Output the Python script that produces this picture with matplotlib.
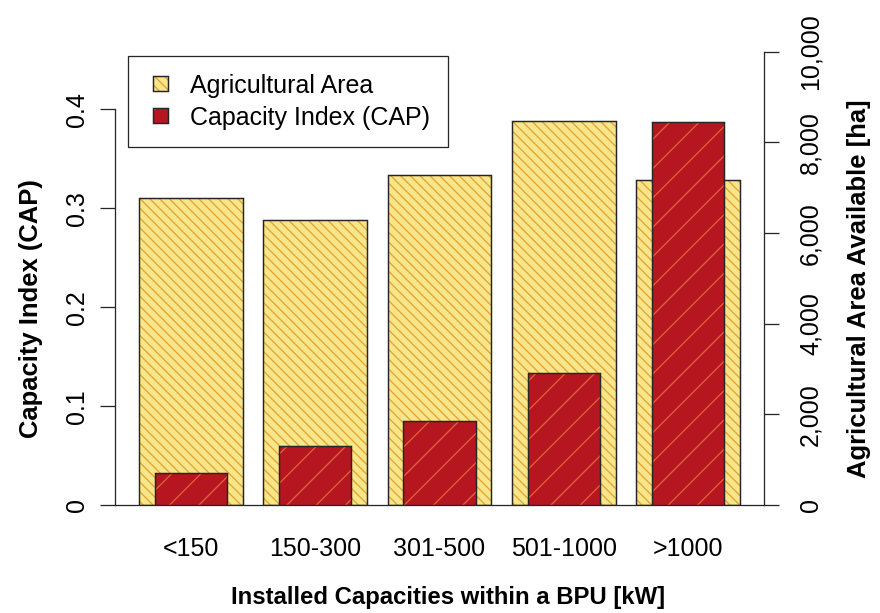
import matplotlib.pyplot as plt
import numpy as np
from matplotlib.legend_handler import HandlerPatch, HandlerTuple
from matplotlib.patches import Patch, Rectangle

plt.rcParams["font.family"] = ["Liberation Sans", "DejaVu Sans"]
plt.rcParams["hatch.linewidth"] = 1.05

categories = ["<150", "150-300", "301-500", "501-1000", ">1000"]
agri_area = [6760, 6280, 7270, 8460, 7160]
cap_index = [0.032, 0.059, 0.085, 0.133, 0.387]
area_ticks = [0, 2000, 4000, 6000, 8000, 10000]
cap_ticks = [0, 0.1, 0.2, 0.3, 0.4]
cap_tick_labels = ["0", "0.1", "0.2", "0.3", "0.4"]

yellow = "#f8e68c"
yellow_hatch = "#e5a22a"
red = "#b5161f"
red_hatch = "#e2623c"
ink = "#262626"
fs = 20.5
yellow_pat = "\\" * 3
red_pat = "/"

# dpi 88 so the hatch spacing matches the original
dpi = 88
fig = plt.figure(figsize=(880 / dpi, 613.4 / dpi), dpi=dpi)
ax = fig.add_axes([0.1307, 0.1762, 0.7375, 0.739])
ax2 = ax.twinx()

x = 0.7 + 1.2 * np.arange(len(categories))
ax.bar(x, agri_area, width=1.0, color=yellow, edgecolor=yellow_hatch,
       hatch=yellow_pat, linewidth=0)
ax.bar(x, agri_area, width=1.0, fill=False, edgecolor=ink, linewidth=1.2)
ax2.bar(x, cap_index, width=0.7, color=red, edgecolor=red_hatch,
        hatch=red_pat, linewidth=0)
ax2.bar(x, cap_index, width=0.7, fill=False, edgecolor=ink, linewidth=1.2)

ax.set_xlim(-0.032, 6.232)
ax.set_ylim(0, 10000)
ax2.set_ylim(0, 0.4576)

# right axis: agricultural area
ax.yaxis.tick_right()
ax.yaxis.set_label_position("right")
ax.set_yticks(area_ticks, [f"{v:,}" for v in area_ticks])
ax.set_xticks(x, categories)
ax.tick_params(axis="x", length=0, pad=26, labelsize=fs)
ax.tick_params(axis="y", length=12.3, width=1.05, color=ink, pad=16,
               labelsize=fs, labelrotation=90)
for s in ["top", "left"]:
    ax.spines[s].set_visible(False)
for s in ["bottom", "right"]:
    ax.spines[s].set_linewidth(1.05)
    ax.spines[s].set_color(ink)

# left axis: capacity index
ax2.yaxis.tick_left()
ax2.yaxis.set_label_position("left")
ax2.set_yticks(cap_ticks, cap_tick_labels)
ax2.tick_params(axis="y", length=12.3, width=1.05, color=ink, pad=8.7,
                labelsize=fs, labelrotation=90)
for s in ["top", "right", "bottom"]:
    ax2.spines[s].set_visible(False)
ax2.spines["left"].set_bounds(0, 0.4)
ax2.spines["left"].set_linewidth(1.05)
ax2.spines["left"].set_color(ink)

plt.setp(ax.get_yticklabels(), va="center")
plt.setp(ax2.get_yticklabels(), va="center")

ax.set_xlabel("Installed Capacities within a BPU [kW]", fontsize=19.5,
              fontweight="bold", va="center")
ax.xaxis.set_label_coords(0.513, -0.203)
ax.set_ylabel("Agricultural Area Available [ha]", fontsize=21,
              fontweight="bold", va="center")
ax.yaxis.set_label_coords(1.147, 0.477)
ax2.set_ylabel("Capacity Index (CAP)", fontsize=21, fontweight="bold",
               va="center")
ax2.yaxis.set_label_coords(-0.129, 0.435)


def square_patch(legend, orig_handle, xdescent, ydescent, width, height, fontsize):
    return Rectangle((-xdescent + width - height, -ydescent), height, height)


h_area = (Patch(facecolor=yellow, edgecolor=yellow_hatch, hatch=yellow_pat, linewidth=0),
          Patch(fill=False, edgecolor=ink, linewidth=1.2))
h_cap = (Patch(facecolor=red, edgecolor=red_hatch, hatch=red_pat, linewidth=0),
         Patch(fill=False, edgecolor=ink, linewidth=1.2))
leg = ax2.legend([h_area, h_cap], ["Agricultural Area", "Capacity Index (CAP)"],
                 handler_map={tuple: HandlerTuple(ndivide=1),
                              Patch: HandlerPatch(patch_func=square_patch)},
                 loc="upper left", bbox_to_anchor=(0.02, 0.991),
                 borderaxespad=0, fontsize=fs, fancybox=False, framealpha=1,
                 handlelength=0.9, handleheight=0.52, handletextpad=0.88,
                 labelspacing=0.33, borderpad=0.7)
leg.get_frame().set_edgecolor(ink)
leg.get_frame().set_linewidth(1.05)

fig.savefig("out.png", dpi=dpi)
